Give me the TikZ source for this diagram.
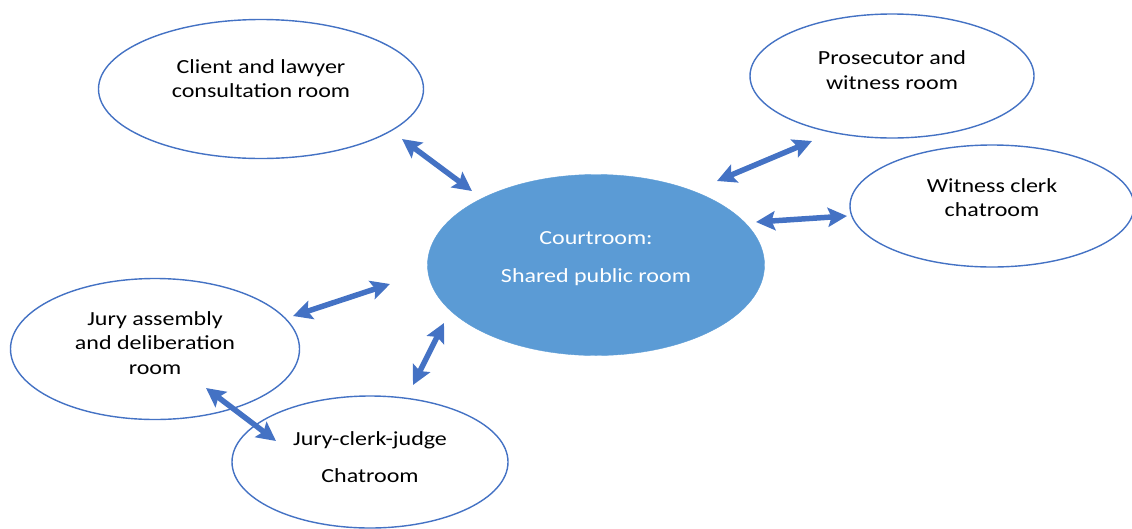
\documentclass[tikz,border=0pt]{standalone}
\usepackage{fontspec}
\setmainfont{Carlito}
\newfontfamily\widefont[FakeStretch=1.2]{Carlito}
\usetikzlibrary{arrows.meta,shapes.geometric}
\definecolor{edgeblue}{HTML}{4472C4}
\definecolor{fillblue}{HTML}{5B9BD5}
\begin{document}
\begin{tikzpicture}[x=1pt,y=-1pt,
  room/.style={draw=edgeblue,line width=1.4pt,ellipse,inner sep=0pt,fill=white},
  hub/.style={ellipse,inner sep=0pt,fill=fillblue,draw=fillblue},
  txt/.style={font=\widefont\fontsize{20}{24.5}\selectfont,align=center,text=black},
  link/.style={draw=edgeblue,line width=5.5pt,{Stealth[length=19pt,width=19pt,inset=3.5pt]}-{Stealth[length=19pt,width=19pt,inset=3.5pt]}}]
\useasboundingbox (0,0) rectangle (1132,528);
% rooms
\node[room,minimum width=325pt,minimum height=139pt] (client) at (261,89) {};
\node[txt] (clientt) at (261,78.5) {Client and lawyer\\consultation room};
\node[room,minimum width=284pt,minimum height=124pt] (pros) at (892,76) {};
\node[txt] (prost) at (892,70) {Prosecutor and\\witness room};
\node[room,minimum width=284pt,minimum height=122pt] (wit) at (992,206) {};
\node[txt] (witt) at (992,197.5) {Witness clerk\\chatroom};
\node[hub,minimum width=337pt,minimum height=181pt] (court) at (596,265) {};
\node[txt,text=white,font=\widefont\fontsize{20}{38}\selectfont] (courtt) at (596,259) {Courtroom:\\Shared public room};
\node[room,minimum width=289pt,minimum height=141pt] (jury) at (155,349) {};
\node[txt] (juryt) at (155,343) {Jury assembly\\and deliberation\\room};
\node[room,minimum width=276pt,minimum height=132pt] (judge) at (370,462) {};
\node[txt,font=\widefont\fontsize{20}{37}\selectfont] (judget) at (370,457) {Jury-clerk-judge\\Chatroom};
% arrow ends
\coordinate (a1) at (402,139); \coordinate (b1) at (472,191);
\coordinate (a2) at (812,141); \coordinate (b2) at (717,181);
\coordinate (a3) at (756,222); \coordinate (b3) at (847,216);
\coordinate (a4) at (293,316); \coordinate (b4) at (390,284);
\coordinate (a5) at (444,323); \coordinate (b5) at (413,385);
\coordinate (a6) at (206,388); \coordinate (b6) at (276,441);
\draw[link] (a1) -- (b1);
\draw[link] (a2) -- (b2);
\draw[link] (a3) -- (b3);
\draw[link] (a4) -- (b4);
\draw[link] (a5) -- (b5);
\draw[link] (a6) -- (b6);
\end{tikzpicture}
\end{document}
